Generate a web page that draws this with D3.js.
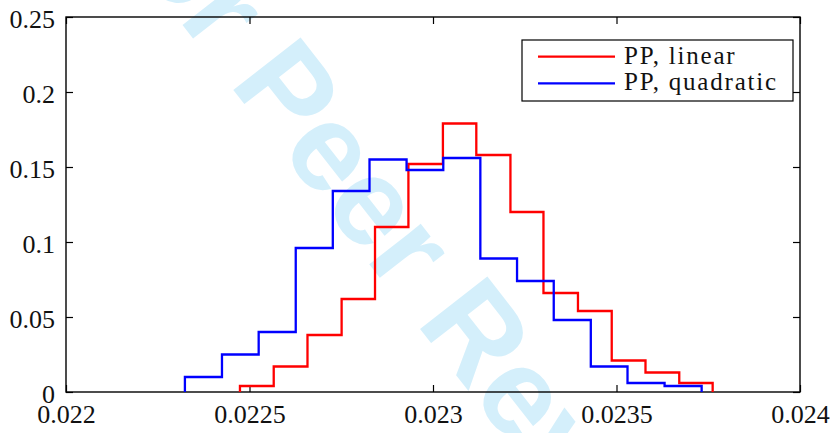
<!DOCTYPE html>
<html>
<head>
<meta charset="utf-8">
<script src="https://cdn.jsdelivr.net/npm/d3@7"></script>
<style>
  html, body { margin: 0; padding: 0; background: #fff; }
  svg { display: block; }
</style>
</head>
<body>
<svg id="chart" width="835" height="433"></svg>
<script>
// Histogram data: bin edges and relative frequencies for each fit
const seriesNames = ["PP, linear", "PP, quadratic"];
const seriesColors = ["#ff0000", "#0000ff"];

const linearEdges = [0.022474, 0.022566, 0.022658, 0.022751, 0.022842, 0.022933, 0.023027,
                     0.023118, 0.023211, 0.023301, 0.023395, 0.023487, 0.023579, 0.023671, 0.023762];
const linearValues = [0.004, 0.017, 0.038, 0.062, 0.110, 0.152, 0.179,
                      0.158, 0.120, 0.066, 0.054, 0.021, 0.013, 0.006];

const quadraticEdges = [0.022324, 0.022425, 0.022525, 0.022626, 0.022727, 0.022827, 0.022928,
                        0.023028, 0.023129, 0.023229, 0.023329, 0.023430, 0.023530, 0.023631, 0.023732];
const quadraticValues = [0.010, 0.025, 0.040, 0.096, 0.134, 0.155, 0.148,
                         0.156, 0.089, 0.074, 0.048, 0.017, 0.006, 0.004];

const xTicks = [0.022, 0.0225, 0.023, 0.0235, 0.024];
const xTickLabels = ["0.022", "0.0225", "0.023", "0.0235", "0.024"];
const yTicks = [0, 0.05, 0.1, 0.15, 0.2, 0.25];
const yTickLabels = ["0", "0.05", "0.1", "0.15", "0.2", "0.25"];

const watermarkText = "For Peer Review";

// Layout
const W = 835, H = 433;
const plot = { left: 66, top: 17, right: 800, bottom: 392 };
const serif = "'Liberation Serif', 'Times New Roman', serif";

const svg = d3.select("#chart");
svg.append("rect").attr("width", W).attr("height", H).attr("fill", "#fff");

// Watermark lettering behind everything else
svg.append("text")
  .attr("transform", "translate(84,-101) rotate(52)")
  .style("font-family", "'Liberation Sans', Arial, sans-serif")
  .style("font-weight", "bold")
  .style("font-size", "124px")
  .attr("fill", "#d4effb")
  .text(watermarkText);

const x = d3.scaleLinear().domain([0.022, 0.024]).range([plot.left, plot.right]);
const y = d3.scaleLinear().domain([0, 0.25]).range([plot.bottom, plot.top]);

const tickLen = 7;

// Bottom axis with labels, ticks pointing inward
const gx = svg.append("g")
  .attr("transform", `translate(0,${plot.bottom})`)
  .call(d3.axisBottom(x).tickValues(xTicks)
    .tickFormat((d, i) => xTickLabels[i])
    .tickSizeInner(-tickLen).tickSizeOuter(0));
gx.select(".domain").remove();
gx.selectAll("text")
  .attr("y", 31).attr("dy", null)
  .style("font-family", serif).style("font-size", "26px").attr("fill", "#111");

// Top axis, ticks only
const gxt = svg.append("g")
  .attr("transform", `translate(0,${plot.top})`)
  .call(d3.axisTop(x).tickValues(xTicks).tickFormat("")
    .tickSizeInner(-tickLen).tickSizeOuter(0));
gxt.select(".domain").remove();

// Left axis with labels
const gy = svg.append("g")
  .attr("transform", `translate(${plot.left},0)`)
  .call(d3.axisLeft(y).tickValues(yTicks)
    .tickFormat((d, i) => yTickLabels[i])
    .tickSizeInner(-tickLen).tickSizeOuter(0));
gy.select(".domain").remove();
gy.selectAll("text")
  .attr("x", -11).attr("dy", null).attr("y", 10)
  .style("font-family", serif).style("font-size", "26px").attr("fill", "#111");

// Right axis, ticks only
const gyr = svg.append("g")
  .attr("transform", `translate(${plot.right},0)`)
  .call(d3.axisRight(y).tickValues(yTicks).tickFormat("")
    .tickSizeInner(-tickLen).tickSizeOuter(0));
gyr.select(".domain").remove();

svg.selectAll(".tick line").attr("stroke", "#000").attr("stroke-width", 1.2);

// Plot box
svg.append("rect")
  .attr("x", plot.left).attr("y", plot.top)
  .attr("width", plot.right - plot.left).attr("height", plot.bottom - plot.top)
  .attr("fill", "none").attr("stroke", "#000").attr("stroke-width", 1.4);

// Stair outline of a histogram
function stairPoints(edges, values) {
  const pts = [[edges[0], 0]];
  values.forEach((v, i) => {
    pts.push([edges[i], v]);
    pts.push([edges[i + 1], v]);
  });
  pts.push([edges[edges.length - 1], 0]);
  return pts;
}
const line = d3.line().x(d => x(d[0])).y(d => y(d[1]));

const series = [
  { edges: linearEdges, values: linearValues },
  { edges: quadraticEdges, values: quadraticValues }
];
series.forEach((s, i) => {
  svg.append("path")
    .attr("d", line(stairPoints(s.edges, s.values)))
    .attr("fill", "none")
    .attr("stroke", seriesColors[i])
    .attr("stroke-width", 2.3)
    .attr("stroke-linejoin", "miter");
});

// Legend
const lg = svg.append("g");
lg.append("rect")
  .attr("x", 522).attr("y", 40).attr("width", 271).attr("height", 61)
  .attr("fill", "#fff").attr("stroke", "#000").attr("stroke-width", 1.2);
seriesNames.forEach((name, i) => {
  const ly = 56.7 + i * 26.7;
  lg.append("line")
    .attr("x1", 538).attr("x2", 615).attr("y1", ly).attr("y2", ly)
    .attr("stroke", seriesColors[i]).attr("stroke-width", 2.2);
  lg.append("text")
    .attr("x", 624).attr("y", ly + 7)
    .style("font-family", serif).style("font-size", "25px")
    .style("letter-spacing", "1.8px")
    .attr("fill", "#111")
    .text(name);
});
</script>
</body>
</html>
